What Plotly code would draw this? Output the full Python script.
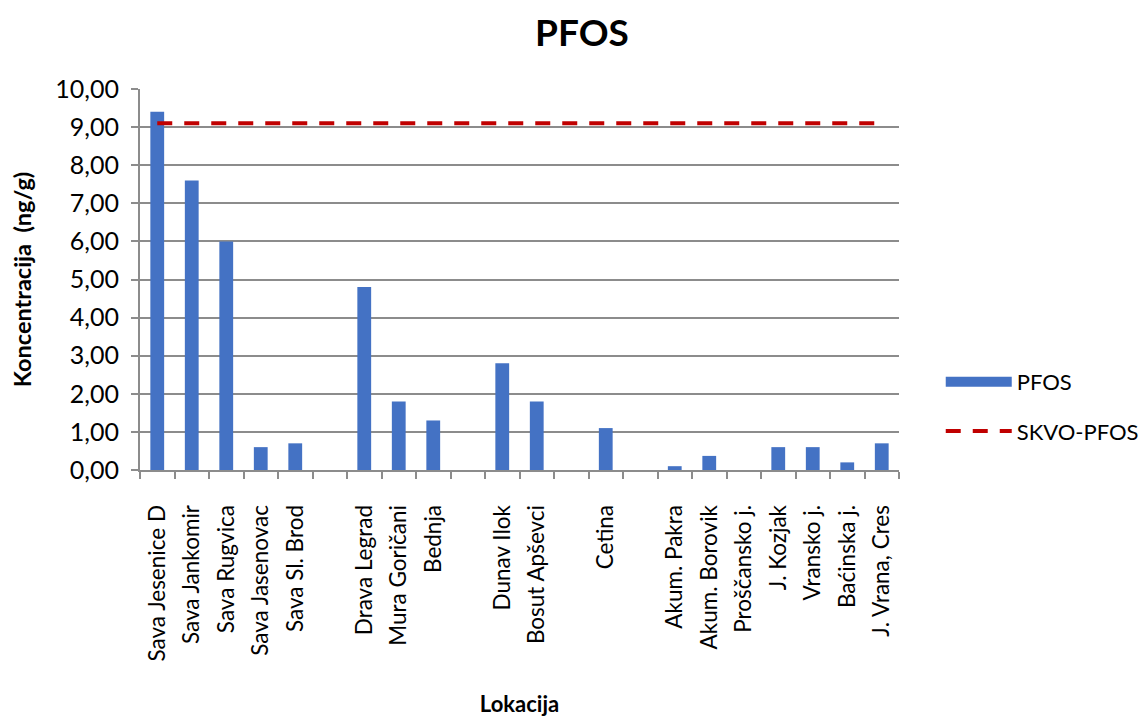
import plotly.graph_objects as go

categories = [
    "Sava Jesenice D", "Sava Jankomir", "Sava Rugvica", "Sava Jasenovac", "Sava Sl. Brod",
    " ",
    "Drava Legrad", "Mura Goričani", "Bednja",
    "  ",
    "Dunav Ilok", "Bosut Apševci",
    "   ",
    "Cetina",
    "    ",
    "Akum. Pakra", "Akum. Borovik", "Proščansko j.", "J. Kozjak", "Vransko j.", "Baćinska j.", "J. Vrana, Cres",
]
pfos = [9.4, 7.6, 6.0, 0.6, 0.7,
        None,
        4.8, 1.8, 1.3,
        None,
        2.8, 1.8,
        None,
        1.1,
        None,
        0.1, 0.37, 0.0, 0.6, 0.6, 0.2, 0.7]
skvo = [9.1] * len(categories)

FONT = "Lato"
GRID = "#8c8c8c"
BLUE = "#4472C4"
RED = "#C00000"

fig = go.Figure()
fig.add_trace(go.Bar(x=categories, y=pfos, name="PFOS", marker_color=BLUE,
                     marker_line_width=0, showlegend=False))
# legend entry for the bars (wide swatch like the original)
fig.add_trace(go.Scatter(x=[None], y=[None], name="PFOS", mode="lines",
                         line=dict(color=BLUE, width=12), legend="legend"))
fig.add_trace(go.Scatter(x=categories, y=skvo, name="SKVO-PFOS", mode="lines",
                         line=dict(color=RED, width=4, dash="15px,12px"),
                         legend="legend2"))

fig.update_layout(
    width=1148, height=717,
    margin=dict(l=132, r=252, t=81, b=255),
    paper_bgcolor="white", plot_bgcolor="white",
    separators=",.",
    bargap=0.6,
    font=dict(family=FONT, color="black", size=22),
    title=dict(text="<b>PFOS</b>", x=0.5, xanchor="center", y=1 - 25 / 717, yanchor="middle",
               font=dict(family=FONT, size=37, color="black")),
    xaxis=dict(
        type="category", tickangle=-90, tickson="boundaries",
        ticks="outside", ticklen=7, tickcolor=GRID, tickwidth=2,
        ticklabelstandoff=24,
        showline=True, linecolor=GRID, linewidth=2,
        showgrid=False,
        tickfont=dict(family=FONT, size=22.5),
        title=dict(text="<b>Lokacija</b>", font=dict(family=FONT, size=22), standoff=36),
    ),
    yaxis=dict(
        range=[0, 10], dtick=1, tickformat=".2f",
        ticks="outside", ticklen=7, tickcolor=GRID, tickwidth=2,
        ticklabelstandoff=7,
        showline=True, linecolor=GRID, linewidth=2,
        showgrid=True, gridcolor=GRID, gridwidth=2,
        zeroline=False,
        tickfont=dict(family=FONT, size=25),
        title=dict(text="<b>Koncentracija  (ng/g)</b>", font=dict(family=FONT, size=23.5), standoff=20),
    ),
    legend=dict(x=1.055, y=0.231, xanchor="left", yanchor="middle",
                font=dict(family=FONT, size=22), bgcolor="rgba(0,0,0,0)", itemwidth=66),
    legend2=dict(x=1.055, y=0.102, xanchor="left", yanchor="middle",
                 font=dict(family=FONT, size=22), bgcolor="rgba(0,0,0,0)", itemwidth=66),
    showlegend=True,
)

fig.write_html("out.html")
